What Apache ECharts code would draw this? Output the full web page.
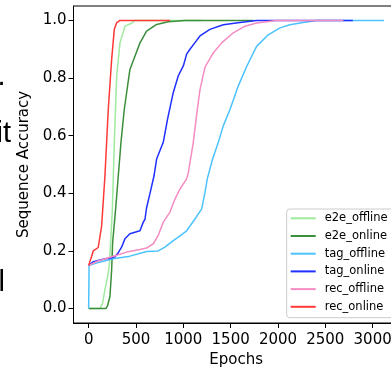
<!DOCTYPE html>
<html>
<head>
<meta charset="utf-8">
<script src="https://cdn.jsdelivr.net/npm/echarts@6/dist/echarts.min.js"></script>
<style>
html,body{margin:0;padding:0;background:#fff;}
#chart{width:391px;height:369px;}
</style>
</head>
<body>
<div id="chart"></div>
<script>
const seriesNames = ['e2e_offline', 'e2e_online', 'tag_offline', 'tag_online', 'rec_offline', 'rec_online'];
const xTicks = [0, 500, 1000, 1500, 2000, 2500, 3000];
const yTicks = [0, 0.2, 0.4, 0.6, 0.8, 1.0];

const e2eOfflineX = [0, 120, 148, 172, 200, 218, 232, 250, 271, 296, 331, 384, 454, 489, 1200];
const e2eOfflineY = [0, 0, 0.02, 0.066, 0.11, 0.15, 0.23, 0.34, 0.575, 0.807, 0.922, 0.98, 0.99, 1.0, 1.0];

const e2eOnlineX = [0, 183, 200, 225, 243, 253, 285, 313, 341, 376, 401, 436, 489, 542, 612, 718, 841, 1017, 1400, 1740];
const e2eOnlineY = [0, 0, 0.01, 0.043, 0.135, 0.228, 0.346, 0.46, 0.575, 0.69, 0.749, 0.83, 0.876, 0.922, 0.963, 0.986, 0.995, 1.0, 1.0, 1.0];

const tagOfflineX = [0, 5, 100, 260, 436, 612, 735, 806, 894, 947, 1035, 1123, 1194, 1229, 1253, 1310, 1369, 1422, 1493, 1580, 1669, 1774, 1897, 2021, 2126, 2267, 2408, 3120];
const tagOfflineY = [0, 0.15, 0.16, 0.173, 0.182, 0.198, 0.2, 0.213, 0.236, 0.248, 0.27, 0.311, 0.346, 0.403, 0.45, 0.52, 0.576, 0.634, 0.691, 0.772, 0.84, 0.91, 0.95, 0.974, 0.985, 0.993, 1.0, 1.0];

const tagOnlineX = [0, 50, 172, 225, 278, 313, 348, 383, 436, 542, 577, 595, 612, 648, 690, 718, 788, 834, 894, 947, 1000, 1035, 1070, 1123, 1176, 1281, 1422, 1598, 1774, 2790];
const tagOnlineY = [0.15, 0.163, 0.173, 0.175, 0.18, 0.194, 0.213, 0.242, 0.26, 0.27, 0.3, 0.31, 0.35, 0.4, 0.46, 0.519, 0.577, 0.658, 0.75, 0.808, 0.842, 0.883, 0.9, 0.923, 0.946, 0.969, 0.985, 0.993, 1.0, 1.0];

const recOfflineX = [0, 100, 296, 401, 542, 612, 683, 735, 788, 859, 912, 964, 1035, 1052, 1105, 1148, 1176, 1229, 1316, 1405, 1528, 1651, 1774, 1986, 2690];
const recOfflineY = [0.15, 0.165, 0.185, 0.196, 0.205, 0.21, 0.225, 0.254, 0.3, 0.335, 0.38, 0.415, 0.45, 0.47, 0.576, 0.691, 0.76, 0.838, 0.887, 0.922, 0.957, 0.98, 0.991, 1.0, 1.0];

const recOnlineX = [0, 30, 49, 67, 101, 119, 137, 172, 207, 243, 271, 296, 331, 500, 860];
const recOnlineY = [0.15, 0.18, 0.2, 0.205, 0.212, 0.215, 0.286, 0.46, 0.69, 0.865, 0.969, 0.992, 1.0, 1.0, 1.0];

const seriesX = [e2eOfflineX, e2eOnlineX, tagOfflineX, tagOnlineX, recOfflineX, recOnlineX];
const seriesY = [e2eOfflineY, e2eOnlineY, tagOfflineY, tagOnlineY, recOfflineY, recOnlineY];
const colors = ['#9eea9e', '#3b8f3b', '#4cc2ff', '#2030ff', '#f58cc2', '#ff3838'];

const font = 'DejaVu Sans';
const chart = echarts.init(document.getElementById('chart'), null, {renderer: 'canvas'});

const series = seriesNames.map((name, i) => ({
  name: name,
  type: 'line',
  symbol: 'none',
  data: seriesX[i].map((x, j) => [x, seriesY[i][j]]),
  lineStyle: {color: colors[i], width: 1.5},
  itemStyle: {color: colors[i]},
  animation: false,
  z: 2 + i
}));

chart.setOption({
  animation: false,
  backgroundColor: '#fff',
  grid: {left: 73.5, top: 6, width: 325.2, height: 317, outerBoundsMode: 'none', containLabel: false,
    show: true, borderColor: '#000', borderWidth: 1, backgroundColor: 'transparent'},
  xAxis: {
    type: 'value', min: -160, max: 3275,
    name: 'Epochs', nameLocation: 'middle', nameGap: 30,
    nameTextStyle: {fontFamily: font, fontSize: 15, color: '#000'},
    axisLine: {show: true, onZero: false, lineStyle: {color: '#000', width: 1}},
    axisTick: {show: true, length: 5, lineStyle: {color: '#000'}, customValues: xTicks},
    axisLabel: {fontFamily: font, fontSize: 15, color: '#000', margin: 10, customValues: xTicks,
      formatter: v => String(v)},
    splitLine: {show: false}
  },
  yAxis: {
    type: 'value', min: -0.05, max: 1.05,
    name: 'Sequence Accuracy', nameLocation: 'middle', nameGap: 38, nameRotate: 90,
    nameTextStyle: {fontFamily: font, fontSize: 15, color: '#000'},
    axisLine: {show: true, onZero: false, lineStyle: {color: '#000', width: 1}},
    axisTick: {show: true, length: 5, lineStyle: {color: '#000'}, customValues: yTicks},
    axisLabel: {fontFamily: font, fontSize: 15, color: '#000', margin: 7, customValues: yTicks,
      formatter: v => v.toFixed(1)},
    splitLine: {show: false}
  },
  legend: {
    orient: 'vertical', left: 286.7, top: 209,
    icon: 'rect', itemWidth: 25, itemHeight: 2, itemGap: 3.7,
    padding: [2.3, 30, 3.9, 4],
    backgroundColor: 'rgba(255,255,255,0.8)', borderColor: '#cccccc', borderWidth: 1, borderRadius: 3,
    textStyle: {fontFamily: font, fontSize: 11.5, color: '#000', lineHeight: 14, padding: [0, 0, 0, 4]},
    data: seriesNames
  },
  graphic: [
    {type: 'text', left: -2.6, top: 62, style: {text: '.', font: '29px "Liberation Sans"', fill: '#000'}},
    {type: 'text', left: -3.5, top: 119, style: {text: 'it', font: '29px "Liberation Sans"', fill: '#000'}},
    {type: 'text', left: -1.5, top: 268, style: {text: 'l', font: '29px "Liberation Sans"', fill: '#000'}}
  ],
  series: series
});
</script>
</body>
</html>
